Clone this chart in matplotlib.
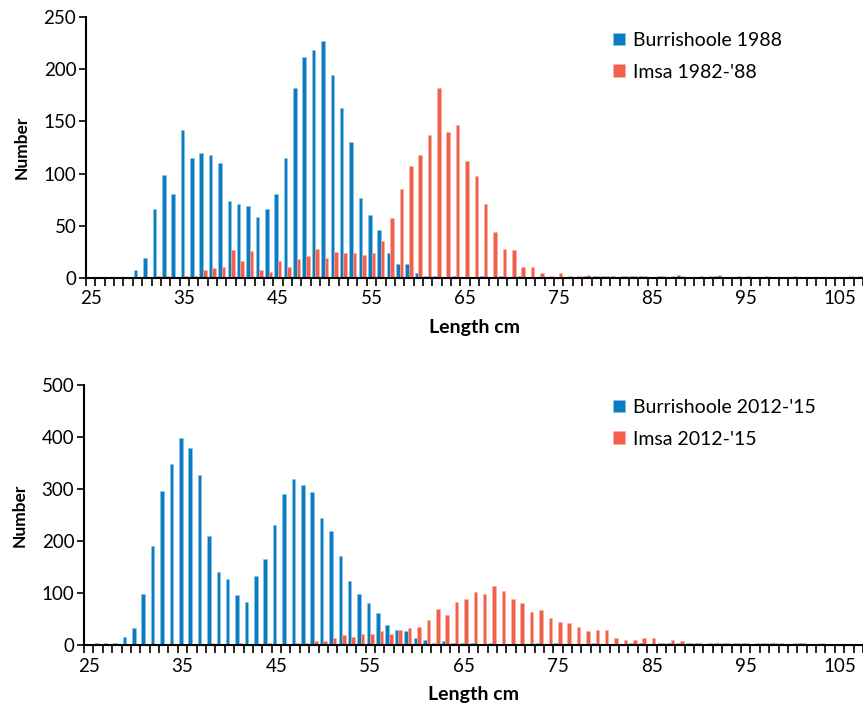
import numpy as np
import matplotlib
matplotlib.use("Agg")
import matplotlib.pyplot as plt

plt.rcParams['font.family'] = ['Lato', 'DejaVu Sans']

# length classes, 25..107 cm
lengths = list(range(25, 108))

# top panel
burr_1988 = [0, 0, 0, 1, 1, 8, 19, 66, 99, 80,
             142, 115, 120, 118, 110, 74, 71, 69, 58, 66,
             80, 115, 182, 212, 218, 227, 194, 163, 130, 77,
             60, 46, 24, 13, 13, 5, 2, 2, 0, 2,
             0, 0, 2, 0, 2, 0, 2, 0, 0, 0,
             0, 0, 0, 2, 2, 2, 2, 2, 2, 2,
             0, 2, 0, 3, 0, 0, 0, 2, 0, 0,
             0, 0, 0, 0, 0, 0, 0, 0, 0, 0,
             0, 0, 0]
imsa_1988 = [0, 0, 0, 0, 0, 0, 0, 2, 2, 0,
             2, 2, 8, 10, 11, 27, 16, 26, 8, 6,
             16, 11, 18, 21, 28, 19, 25, 24, 24, 22,
             24, 35, 57, 85, 107, 118, 137, 182, 140, 147,
             112, 98, 71, 44, 28, 27, 11, 11, 5, 2,
             5, 2, 2, 3, 2, 2, 0, 2, 2, 2,
             0, 2, 2, 2, 0, 2, 2, 3, 0, 2,
             2, 0, 2, 0, 0, 2, 0, 0, 0, 0,
             0, 2, 2]

# bottom panel
burr_2015 = [0, 3, 3, 3, 16, 32, 99, 190, 297, 348,
             398, 379, 326, 209, 140, 127, 96, 83, 133, 165,
             231, 291, 319, 307, 294, 244, 219, 171, 124, 99,
             80, 61, 38, 29, 26, 14, 10, 3, 7, 3,
             3, 3, 0, 3, 0, 0, 0, 0, 3, 0,
             3, 0, 0, 0, 3, 0, 0, 0, 3, 3,
             0, 3, 3, 3, 3, 3, 0, 3, 3, 3,
             3, 0, 3, 3, 3, 0, 3, 0, 0, 0,
             0, 0, 0]
imsa_2015 = [0, 0, 0, 0, 0, 0, 0, 0, 0, 0,
             0, 0, 0, 3, 0, 0, 3, 0, 0, 3,
             0, 0, 3, 3, 7, 7, 13, 19, 16, 22,
             22, 26, 22, 29, 32, 35, 48, 70, 58, 83,
             89, 102, 99, 114, 104, 89, 80, 64, 67, 51,
             45, 42, 35, 26, 29, 29, 14, 10, 10, 14,
             14, 3, 10, 7, 3, 3, 3, 3, 3, 3,
             3, 3, 3, 3, 0, 3, 3, 0, 3, 0,
             0, 0, 0]

blue = '#0a7dc2'
red = '#f2604a'

fig = plt.figure(figsize=(8.63, 7.05), dpi=100)
ax1 = fig.add_axes([86/863, 1-278/705, 1-86/863, 261/705])
ax2 = fig.add_axes([84/863, 1-645/705, 1-84/863, 260/705])

x = np.arange(len(lengths))
w = 0.38

def draw(ax, b, r, lab_b, lab_r, ymax, ystep, leg_top):
    ax.bar(x - w/2, b, width=w, color=blue, edgecolor='#8cc4e6', linewidth=0.4, label=lab_b)
    ax.bar(x + w/2, r, width=w, color=red, edgecolor='#f8b2a6', linewidth=0.4, label=lab_r)
    ax.set_xlim(-0.5, len(lengths) - 0.5)
    ax.set_ylim(0, ymax)
    ax.set_yticks(np.arange(0, ymax + 1, ystep))
    ax.set_xticks(x[::10])
    ax.set_xticklabels([str(v) for v in lengths[::10]])
    ax.set_xticks(np.arange(-0.5, len(lengths), 1), minor=True)
    ax.tick_params(axis='x', which='major', length=0, pad=9, labelsize=13.5)
    ax.tick_params(axis='x', which='minor', length=6, width=1.2, direction='out')
    ax.tick_params(axis='y', length=5, width=1.2, direction='out', labelsize=13.5, pad=2)
    for s in ['top', 'right']:
        ax.spines[s].set_visible(False)
    for s in ['left', 'bottom']:
        ax.spines[s].set_linewidth(1.5)
    ax.set_ylabel('Number', fontsize=12.5, fontweight='bold', labelpad=10)
    ax.set_xlabel('Length cm', fontsize=14, fontweight='bold', labelpad=8)
    ax.legend(loc='upper left', bbox_to_anchor=(613/863, 1 - leg_top/705),
              bbox_transform=fig.transFigure, frameon=False, fontsize=14,
              handlelength=0.62, handleheight=0.62, handletextpad=0.4,
              labelspacing=0.75, borderpad=0, borderaxespad=0)

draw(ax1, burr_1988, imsa_1988, 'Burrishoole 1988', "Imsa 1982-'88", 250, 50, 32)
draw(ax2, burr_2015, imsa_2015, "Burrishoole 2012-'15", "Imsa 2012-'15", 500, 100, 399)

fig.savefig('out.png', dpi=100)
